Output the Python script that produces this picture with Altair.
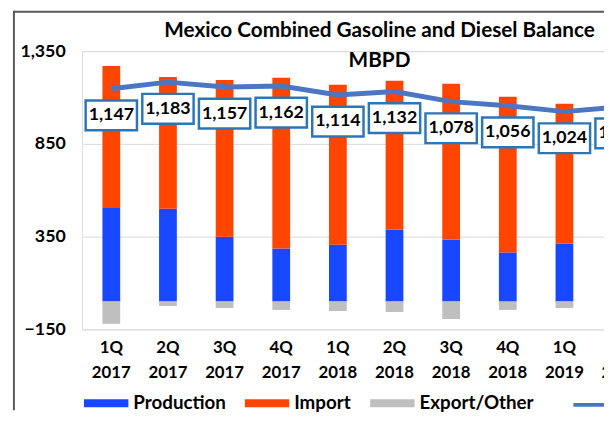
import altair as alt
import pandas as pd

# ---- data ----
quarters = ["1Q 2017", "2Q 2017", "3Q 2017", "4Q 2017", "1Q 2018",
            "2Q 2018", "3Q 2018", "4Q 2018", "1Q 2019", "2Q 2019"]
production = [505, 500, 350, 286, 307, 388, 334, 265, 313, 330]
imports = [765, 711, 845, 920, 862, 802, 840, 839, 754, 760]
exports = [-120, -24, -35, -45, -51, -56, -94, -45, -35, -40]
net = [1147, 1183, 1157, 1162, 1114, 1132, 1078, 1056, 1024, 1050]

series_names = ["Production", "Import", "Export/Other"]
series_colors = ["#1747FF", "#FF4500", "#BFBFBF"]
line_name = "Demand"
line_color = "#4A76C2"
box_color = "#2E75B6"
y_ticks = [-150, 350, 850, 1350]
title_lines = ["Mexico Combined Gasoline and Diesel Balance", "MBPD"]

rows = []
for i, q in enumerate(quarters):
    for k, (name, vals) in enumerate(zip(series_names, [production, imports, exports])):
        rows.append({"quarter": q, "series": name, "value": vals[i], "order": k})
bars_df = pd.DataFrame(rows)
line_df = pd.DataFrame({"quarter": quarters, "net": net, "series": line_name})

FONT = "Lato"

x_scale = alt.Scale(domain=quarters, range=[1, 575], paddingInner=0, paddingOuter=0)
y_scale = alt.Scale(domain=[-150, 1350], nice=False, zero=False)

x_axis = alt.Axis(title=None, labelExpr="split(datum.label, ' ')", labelAngle=0,
                  labelFontSize=17, labelFontWeight="bold", labelColor="#000000",
                  labelFont=FONT, labelPadding=10, labelLineHeight=26,
                  domain=False, ticks=False, grid=False, labelBaseline="top")
y_axis = alt.Axis(title=None, values=y_ticks, format=",.0f", domain=False, ticks=False,
                  gridColor="#D9D9D9", gridWidth=1, labelFontSize=18,
                  labelFontWeight="bold", labelColor="#000000", labelFont=FONT,
                  labelPadding=17)

bars = alt.Chart(bars_df).mark_bar(width=18).encode(
    x=alt.X("quarter:N", scale=x_scale, sort=quarters, axis=x_axis),
    y=alt.Y("value:Q", stack="zero", scale=y_scale, axis=y_axis),
    fill=alt.Fill("series:N", scale=alt.Scale(domain=series_names, range=series_colors),
                  legend=alt.Legend(title=None, orient="none", legendX=2, legendY=334,
                                    direction="horizontal",
                                    symbolType="M-1,-0.18H1V0.18H-1Z", symbolSize=2025,
                                    symbolStrokeWidth=0, symbolOpacity=1,
                                    labelFontSize=19, labelFontWeight="bold",
                                    labelFont=FONT, labelColor="#000000",
                                    columnPadding=19, labelOffset=5, padding=0)),
    order=alt.Order("order:Q"),
)

line = alt.Chart(line_df).mark_line(strokeWidth=5).encode(
    x=alt.X("quarter:N", scale=x_scale, sort=quarters, axis=x_axis),
    y=alt.Y("net:Q", scale=y_scale, axis=y_axis),
    stroke=alt.Stroke("series:N", scale=alt.Scale(domain=[line_name], range=[line_color]),
                      legend=alt.Legend(title=None, orient="none", legendX=496, legendY=334,
                                        symbolType="stroke", symbolSize=2025,
                                        symbolStrokeWidth=4, labelFontSize=19,
                                        labelFontWeight="bold", labelFont=FONT,
                                        labelColor="#000000", padding=0)),
)

boxes = alt.Chart(line_df).mark_point(
    shape="M-1,-0.58H1V0.58H-1Z", size=2704, filled=True, fill="white",
    stroke=box_color, strokeWidth=2.5, opacity=1, fillOpacity=1, strokeOpacity=1,
    yOffset=27,
).encode(
    x=alt.X("quarter:N", scale=x_scale, sort=quarters, axis=x_axis),
    y=alt.Y("net:Q", scale=y_scale, axis=y_axis),
)

labels = alt.Chart(line_df).mark_text(
    font=FONT, fontSize=18, fontWeight="bold", color="#000000", yOffset=27,
    baseline="middle", align="center",
).encode(
    x=alt.X("quarter:N", scale=x_scale, sort=quarters, axis=x_axis),
    y=alt.Y("net:Q", scale=y_scale, axis=y_axis),
    text=alt.Text("net:Q", format=","),
)

frame_left = alt.Chart(alt.Data(values=[{"a": 1}])).mark_rule(
    color="#595959", strokeWidth=2).encode(
    x=alt.value(-69), y=alt.value(-41), y2=alt.value(364))
frame_top = alt.Chart(alt.Data(values=[{"a": 1}])).mark_rule(
    color="#595959", strokeWidth=2).encode(
    x=alt.value(-69), x2=alt.value(529), y=alt.value(-40))

chart = alt.layer(bars, line, boxes, labels, frame_left, frame_top).properties(
    width=529,
    height=282,
    padding={"left": 75, "top": 41, "right": 0, "bottom": 82},
    autosize=alt.AutoSizeParams(type="none"),
    title=alt.TitleParams(text=title_lines, font=FONT, fontSize=21, fontWeight="bold",
                          color="#000000", lineHeight=30, offset=0, dy=62, dx=37,
                          anchor="middle", frame="group"),
).configure_view(stroke=None).configure(background="white")

chart.save("out.html", embed_options={"renderer": "svg", "actions": False})
